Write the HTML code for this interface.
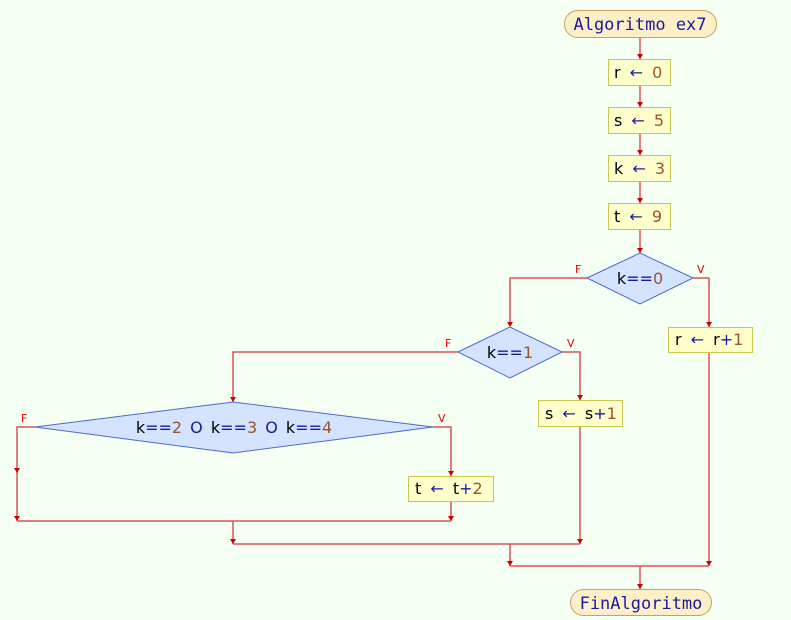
<!DOCTYPE html>
<html><head><meta charset="utf-8"><style>
html,body{margin:0;padding:0;background:#f6fff3;}
svg{display:block}
text{font-family:"DejaVu Sans","Liberation Sans",sans-serif;font-size:16px;word-spacing:4px;}
.m{font-family:"DejaVu Sans Mono","Liberation Mono",monospace;fill:#1a1a9a;font-size:17px;word-spacing:0}
.o{fill:#1a1aa0}.n{fill:#a0522d}
.l{font-size:11px;fill:#d00;font-family:"DejaVu Sans",sans-serif}
.d{word-spacing:3px}
</style></head><body>
<svg width="791" height="620" viewBox="0 0 791 620" xmlns="http://www.w3.org/2000/svg">
<rect width="791" height="620" fill="#f6fff3"/>
<g stroke="#d65555" stroke-width="1.5" fill="none">
<path d="M640 37V59M640 85V107M640 133V155M640 181V203M640 229V253"/>
<path d="M587 278H510V326M693 278H709V327M709 352V566"/>
<path d="M562 352H580V400M580 426V544M458 352H233V402"/>
<path d="M433 427H451V476M451 501V521M35 427H17V521"/>
<path d="M17 521H451M233 521V544M233 544H580M510 544V566M510 566H709M640 566V589"/>
</g>
<g fill="#cc0000">
<polygon points="637,54 643,54 640,59"/><polygon points="637,102 643,102 640,107"/>
<polygon points="637,150 643,150 640,155"/><polygon points="637,198 643,198 640,203"/>
<polygon points="637,248 643,248 640,253"/>
<polygon points="507,322 513,322 510,327"/><polygon points="706,322 712,322 709,327"/>
<polygon points="577,395 583,395 580,400"/><polygon points="230,397 236,397 233,402"/>
<polygon points="448,471 454,471 451,476"/><polygon points="14,468 20,468 17,473"/>
<polygon points="14,516 20,516 17,521"/><polygon points="448,516 454,516 451,521"/>
<polygon points="230,539 236,539 233,544"/><polygon points="577,539 583,539 580,544"/>
<polygon points="507,561 513,561 510,566"/><polygon points="706,561 712,561 709,566"/>
<polygon points="637,584 643,584 640,589"/>
</g>
<rect x="564.5" y="10.5" width="152" height="27" rx="13.5" fill="#fdefc8" stroke="#c8a060"/>
<text x="640" y="30" text-anchor="middle" class="m">Algoritmo ex7</text>
<rect x="570.5" y="589.5" width="141" height="26" rx="13" fill="#fdefc8" stroke="#c8a060"/>
<text x="641" y="609" text-anchor="middle" class="m">FinAlgoritmo</text>
<g fill="#ffffcc" stroke="#c8c850">
<rect x="608.5" y="59.5" width="62" height="26"/><rect x="608.5" y="107.5" width="62" height="26"/>
<rect x="608.5" y="155.5" width="62" height="26"/><rect x="608.5" y="203.5" width="62" height="26"/>
<rect x="668.5" y="327.5" width="84" height="25"/><rect x="538.5" y="400.5" width="84" height="26"/>
<rect x="408.5" y="476.5" width="85" height="25"/>
</g>
<g fill="#d4e3ff" stroke="#4a6ad0">
<polygon points="587,278 640,253 693,278 640,304"/>
<polygon points="458,352 510,327 562,352 510,378"/>
<polygon points="35,427 233,402 433,427 233,453"/>
</g>
<text x="614" y="78" xml:space="preserve">r <tspan class="o">←</tspan> <tspan class="n">0</tspan></text>
<text x="614" y="126" xml:space="preserve">s <tspan class="o">←</tspan> <tspan class="n">5</tspan></text>
<text x="614" y="174" xml:space="preserve">k <tspan class="o">←</tspan> <tspan class="n">3</tspan></text>
<text x="614" y="222" xml:space="preserve">t <tspan class="o">←</tspan> <tspan class="n">9</tspan></text>
<text x="675" y="345" xml:space="preserve">r <tspan class="o">←</tspan> r<tspan class="o">+</tspan><tspan class="n">1</tspan></text>
<text x="545" y="419" xml:space="preserve">s <tspan class="o">←</tspan> s<tspan class="o">+</tspan><tspan class="n">1</tspan></text>
<text x="415" y="494" xml:space="preserve">t <tspan class="o">←</tspan> t<tspan class="o">+</tspan><tspan class="n">2</tspan></text>
<text x="640" y="284" text-anchor="middle">k<tspan class="o">==</tspan><tspan class="n">0</tspan></text>
<text x="510" y="358" text-anchor="middle">k<tspan class="o">==</tspan><tspan class="n">1</tspan></text>
<text class="d" x="234" y="433" text-anchor="middle" xml:space="preserve">k<tspan class="o">==</tspan><tspan class="n">2</tspan> <tspan class="o">O</tspan> k<tspan class="o">==</tspan><tspan class="n">3</tspan> <tspan class="o">O</tspan> k<tspan class="o">==</tspan><tspan class="n">4</tspan></text>
<text class="l" x="575" y="273">F</text><text class="l" x="697" y="273">V</text>
<text class="l" x="445" y="347">F</text><text class="l" x="567" y="347">V</text>
<text class="l" x="21" y="422">F</text><text class="l" x="438" y="422">V</text>
</svg>
</body></html>
